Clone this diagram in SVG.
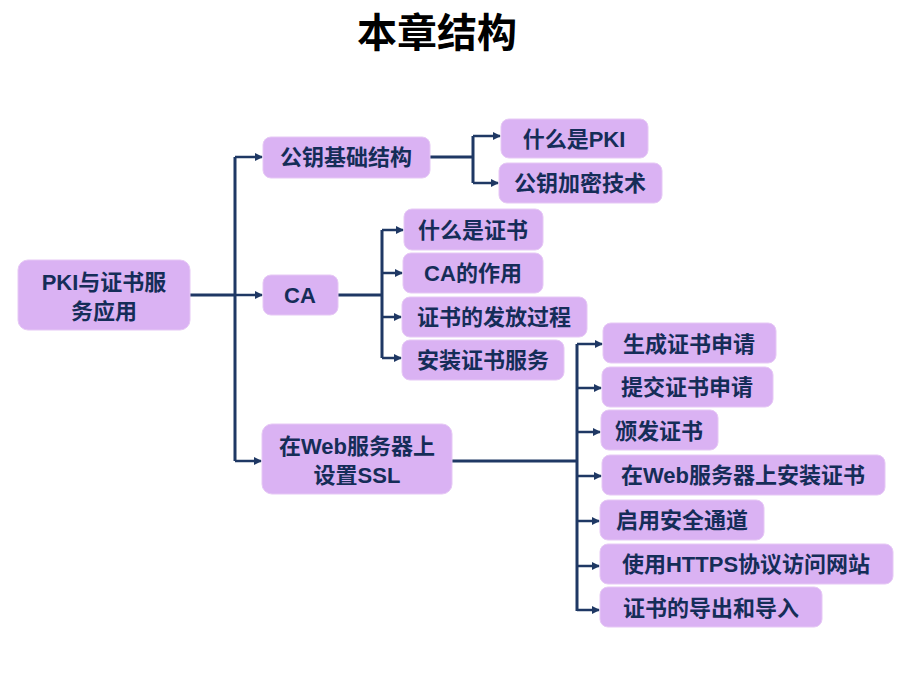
<svg xmlns="http://www.w3.org/2000/svg" width="920" height="690" viewBox="0 0 920 690">
<defs>
<marker id="ah" markerWidth="8" markerHeight="8" refX="7" refY="4" orient="auto" markerUnits="userSpaceOnUse">
<path d="M0,0 L8,4 L0,8 Z" fill="#1f3864"/>
</marker>
<style>
.box{fill:#dab2f3;stroke:#e6c8f5;stroke-width:1}
.t{font-family:"Liberation Sans","Noto Sans CJK SC",sans-serif;font-weight:bold;font-size:22px;fill:#152d58;text-anchor:middle}
.c{fill:none;stroke:#1f3864;stroke-width:3}
.a{fill:none;stroke:#1f3864;stroke-width:2.5;marker-end:url(#ah)}
</style>
</defs>
<rect width="920" height="690" fill="#ffffff"/>
<text x="437" y="47" style="font-family:'Liberation Sans','Noto Sans CJK SC',sans-serif;font-weight:bold;font-size:40px;fill:#000;text-anchor:middle">本章结构</text>

<g id="connectors">
<path class="c" d="M190,295 H235 M235,157 V461"/>
<path class="a" d="M235,157 H262"/>
<path class="a" d="M235,295 H262"/>
<path class="a" d="M235,461 H261"/>
<path class="c" d="M430,157 H473 M473,136 V183"/>
<path class="a" d="M473,136 H500"/>
<path class="a" d="M473,183 H498"/>
<path class="c" d="M338,295 H382 M382,230 V358"/>
<path class="a" d="M382,230 H403"/>
<path class="a" d="M382,273 H402"/>
<path class="a" d="M382,317 H401"/>
<path class="a" d="M382,358 H401"/>
<path class="c" d="M452,461 H577 M577,344 V611"/>
<path class="a" d="M577,344 H602"/>
<path class="a" d="M577,388 H601"/>
<path class="a" d="M577,432 H600"/>
<path class="a" d="M577,476 H601"/>
<path class="a" d="M577,521 H599"/>
<path class="a" d="M577,566 H599"/>
<path class="a" d="M577,610 H599"/>
</g>

<g id="root"><rect class="box" x="18" y="260" width="172" height="70" rx="10"/>
<text class="t" x="104" y="290">PKI与证书服</text><text class="t" x="104" y="319">务应用</text></g>

<g id="pki"><rect class="box" x="263" y="137" width="167" height="41" rx="8"/><text class="t" x="346" y="165">公钥基础结构</text></g>
<g id="ca"><rect class="box" x="263" y="275" width="75" height="40" rx="8"/><text class="t" x="300" y="303">CA</text></g>
<g id="ssl"><rect class="box" x="262" y="424" width="190" height="70" rx="10"/>
<text class="t" x="357" y="454">在Web服务器上</text><text class="t" x="357" y="483">设置SSL</text></g>

<g id="pki1"><rect class="box" x="501" y="119" width="147" height="39" rx="8"/><text class="t" x="574" y="147">什么是PKI</text></g>
<g id="pki2"><rect class="box" x="499" y="163" width="163" height="40" rx="8"/><text class="t" x="580" y="191">公钥加密技术</text></g>

<g id="ca1"><rect class="box" x="404" y="209" width="139" height="41" rx="8"/><text class="t" x="473" y="238">什么是证书</text></g>
<g id="ca2"><rect class="box" x="403" y="253" width="140" height="40" rx="8"/><text class="t" x="473" y="281">CA的作用</text></g>
<g id="ca3"><rect class="box" x="402" y="297" width="185" height="40" rx="8"/><text class="t" x="494" y="325">证书的发放过程</text></g>
<g id="ca4"><rect class="box" x="402" y="340" width="162" height="40" rx="8"/><text class="t" x="483" y="368">安装证书服务</text></g>

<g id="s1"><rect class="box" x="603" y="323" width="173" height="40" rx="8"/><text class="t" x="689" y="352">生成证书申请</text></g>
<g id="s2"><rect class="box" x="602" y="367" width="171" height="40" rx="8"/><text class="t" x="687" y="395">提交证书申请</text></g>
<g id="s3"><rect class="box" x="601" y="410" width="117" height="40" rx="8"/><text class="t" x="659" y="439">颁发证书</text></g>
<g id="s4"><rect class="box" x="602" y="455" width="283" height="40" rx="8"/><text class="t" x="743" y="483">在Web服务器上安装证书</text></g>
<g id="s5"><rect class="box" x="600" y="500" width="164" height="40" rx="8"/><text class="t" x="682" y="528">启用安全通道</text></g>
<g id="s6"><rect class="box" x="600" y="544" width="293" height="40" rx="8"/><text class="t" x="746" y="572">使用HTTPS协议访问网站</text></g>
<g id="s7"><rect class="box" x="600" y="587" width="222" height="40" rx="8"/><text class="t" x="711" y="616">证书的导出和导入</text></g>
</svg>
